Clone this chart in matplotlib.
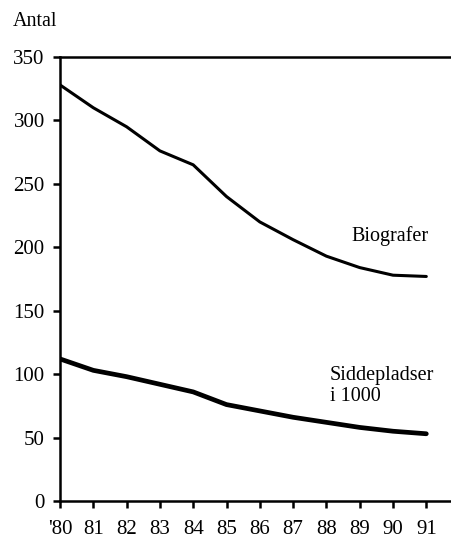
import matplotlib.pyplot as plt

years = ["'80", "81", "82", "83", "84", "85", "86", "87", "88", "89", "90", "91"]
biografer = [328, 310, 295, 276, 265, 240, 220, 206, 193, 184, 178, 177]
siddepladser = [112, 103, 98, 92, 86, 76, 71, 66, 62, 58, 55, 53]

plt.rcParams['font.family'] = ['Liberation Serif', 'DejaVu Serif']

fig = plt.figure(figsize=(4.51, 5.4), dpi=100)
ax = fig.add_axes([60 / 451, 39 / 540, 391 / 451, 444 / 540])

x = list(range(len(years)))
ax.plot(x, biografer, color='black', lw=2.2, solid_capstyle='round')
ax.plot(x, siddepladser, color='black', lw=3.4, solid_capstyle='round')

ax.set_xlim(0, 391 / 33.3)
ax.set_ylim(0, 350)
ax.set_xticks(x)
ax.set_xticklabels(years)
ax.set_yticks(range(0, 351, 50))

for s in ['left', 'bottom', 'top']:
    ax.spines[s].set_linewidth(1.8)
ax.spines['right'].set_visible(False)
ax.tick_params(axis='both', direction='out', width=1.8, length=5, labelsize=15)
ax.tick_params(axis='x', pad=9)
ax.tick_params(axis='y', pad=6)

ax.text(8.75, 205, 'Biografer', fontsize=14.5)
ax.text(8.1, 79, 'Siddepladser\ni 1000', fontsize=14.5, linespacing=1.15)
fig.text(13 / 451, 1 - 22 / 540, 'Antal', fontsize=14.5, va='center')

fig.savefig('out.png', dpi=100)
